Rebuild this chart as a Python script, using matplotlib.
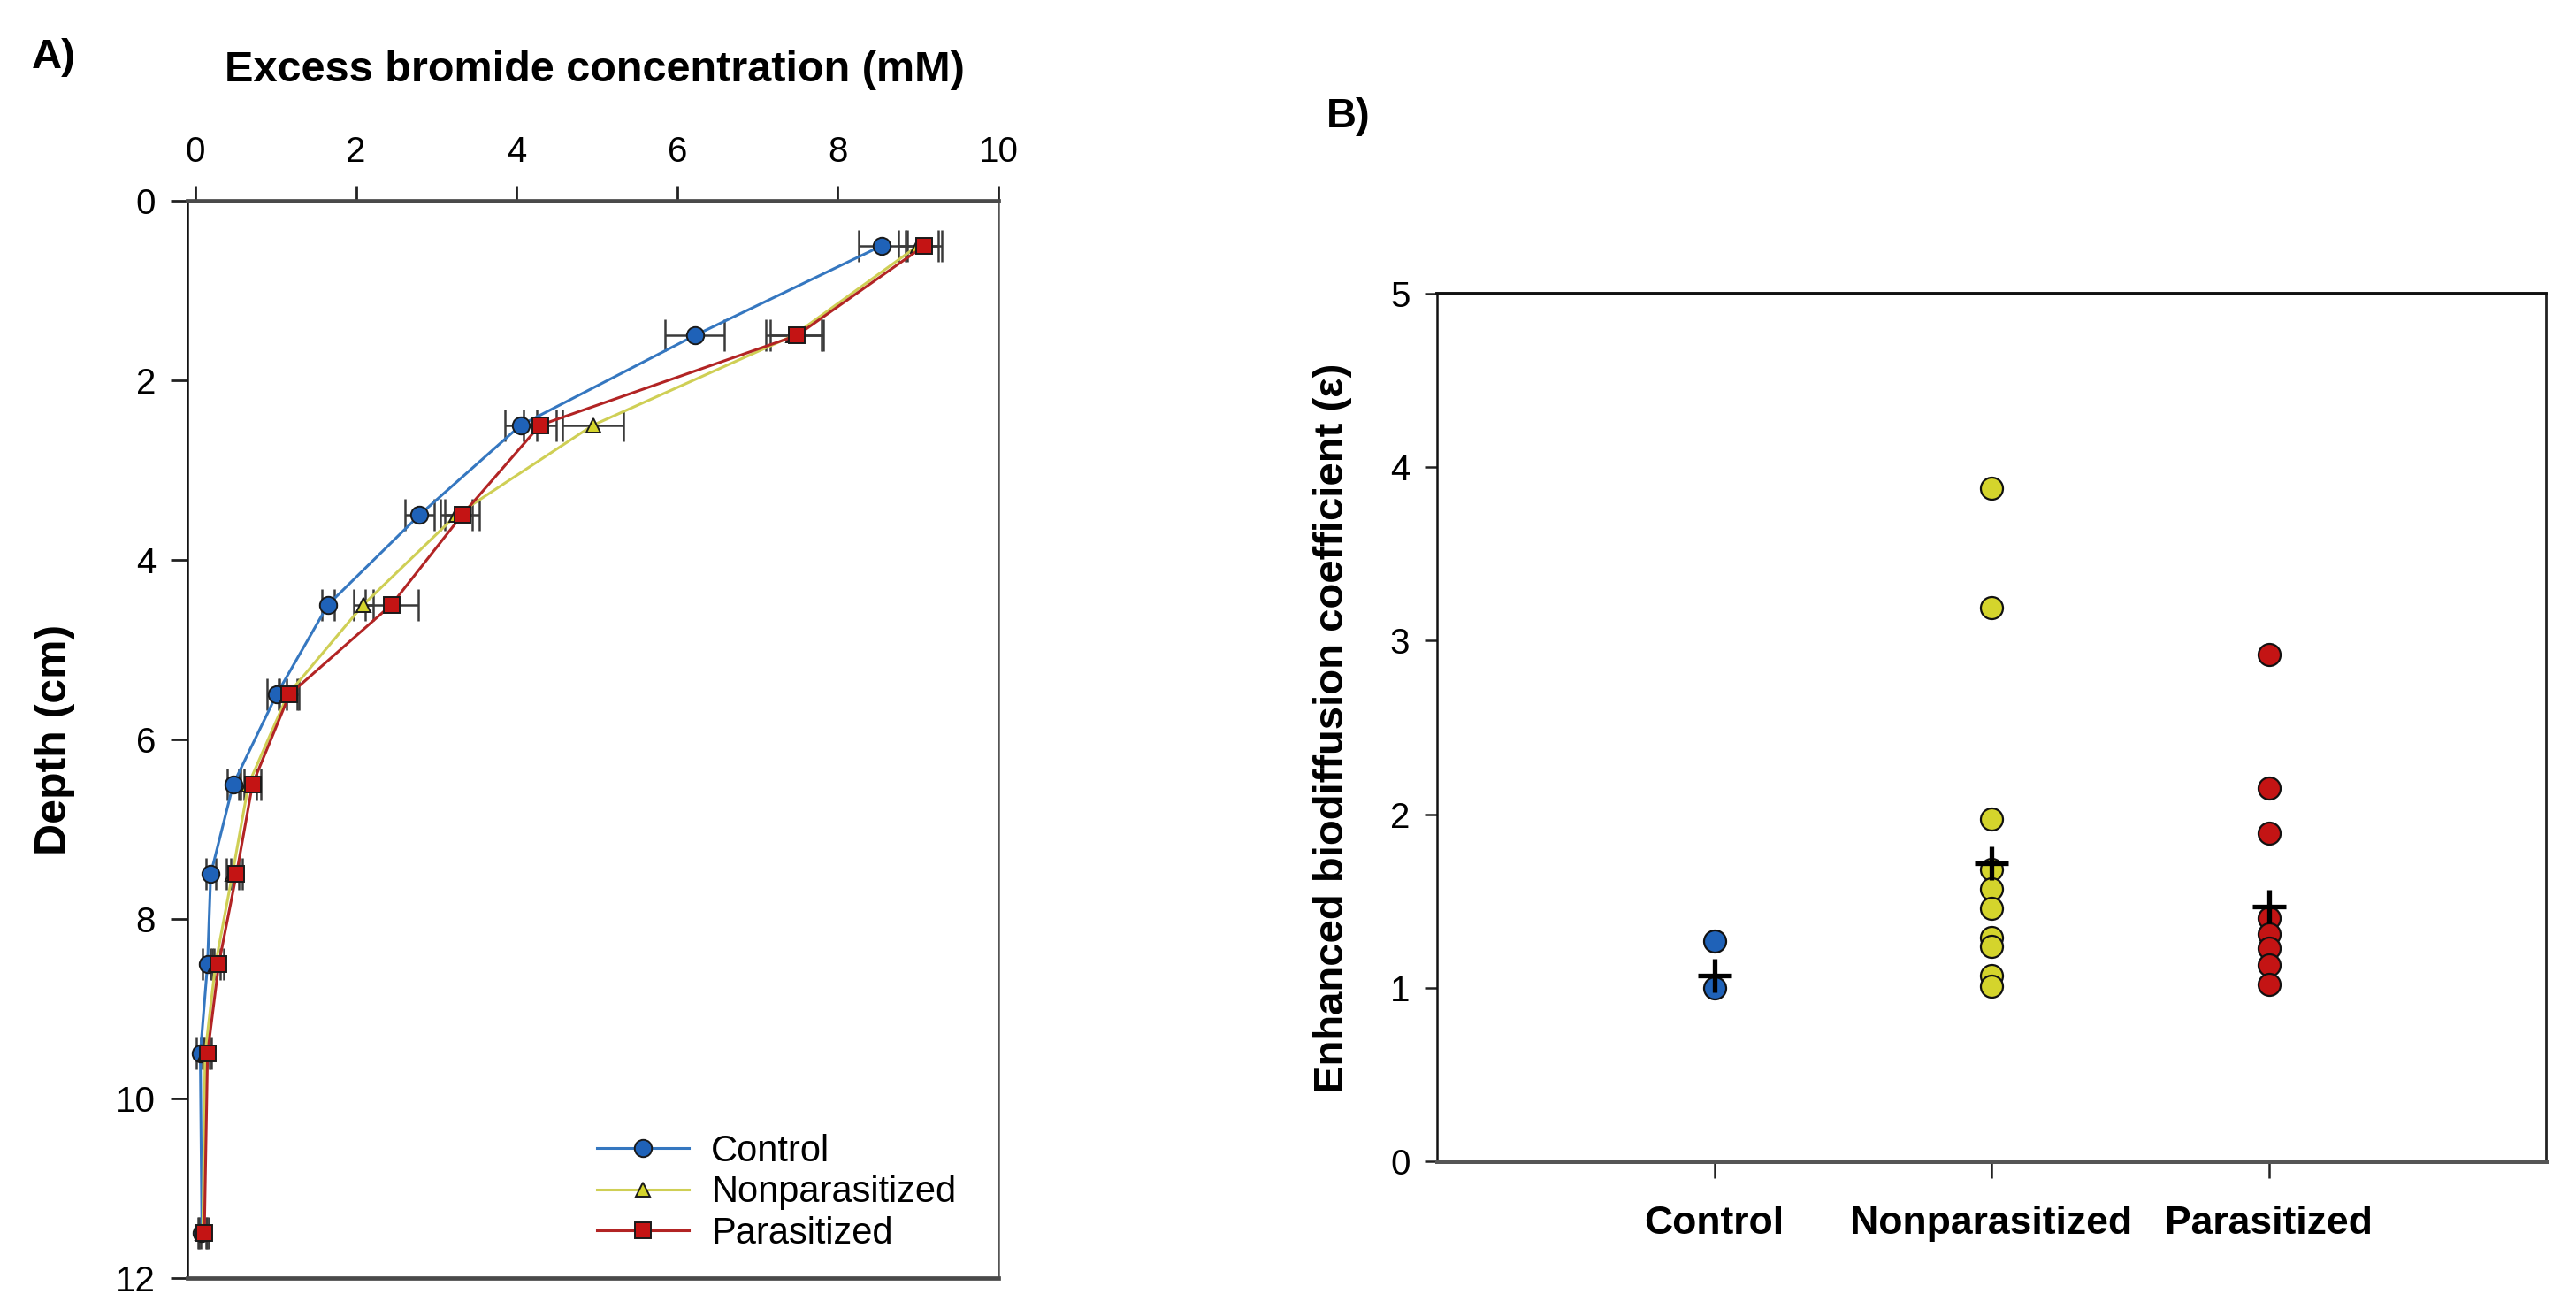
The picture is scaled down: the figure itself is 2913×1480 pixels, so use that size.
import matplotlib
matplotlib.use('Agg')
import matplotlib.pyplot as plt
import numpy as np

plt.rcParams['font.family'] = ['Liberation Sans', 'DejaVu Sans']

# ---------------- Data: panel A ----------------
depth = [0.5, 1.5, 2.5, 3.5, 4.5, 5.5, 6.5, 7.5, 8.5, 9.5, 11.5]
control_conc = [8.55, 6.22, 4.05, 2.79, 1.65, 1.01, 0.47, 0.19, 0.15, 0.06, 0.08]
control_err = [0.29, 0.37, 0.20, 0.18, 0.08, 0.12, 0.07, 0.06, 0.06, 0.05, 0.05]
nonpar_conc = [9.00, 7.45, 4.95, 3.25, 2.09, 1.15, 0.66, 0.46, 0.25, 0.12, 0.09]
nonpar_err = [0.25, 0.35, 0.38, 0.20, 0.12, 0.12, 0.10, 0.08, 0.06, 0.05, 0.05]
par_conc = [9.08, 7.49, 4.29, 3.32, 2.44, 1.17, 0.71, 0.51, 0.29, 0.15, 0.11]
par_err = [0.21, 0.33, 0.20, 0.21, 0.33, 0.12, 0.10, 0.07, 0.06, 0.05, 0.05]
series_names = ['Control', 'Nonparasitized', 'Parasitized']

# ---------------- Data: panel B ----------------
categories = ['Control', 'Nonparasitized', 'Parasitized']
control_eps = [1.27, 1.00]
nonpar_eps = [3.88, 3.19, 1.97, 1.68, 1.57, 1.46, 1.29, 1.24, 1.07, 1.01]
par_eps = [2.92, 2.15, 1.89, 1.40, 1.31, 1.23, 1.13, 1.02]
mean_eps = [1.07, 1.72, 1.47]

# ---------------- Styles ----------------
line_colors = ['#3577c0', '#cfcf55', '#b22424']
fill_colors = ['#1f62b8', '#d4d42c', '#c41414']
markers = ['o', '^', 's']
msizes = [7, 6, 6.5]

W, H = 2913, 1480
fig = plt.figure(figsize=(W / 200, H / 200), dpi=200)

# ---------------- Panel A ----------------
axA = fig.add_axes([212 / W, 1 - 1445 / H, 917 / W, 1218 / H])
concs = [control_conc, nonpar_conc, par_conc]
errs = [control_err, nonpar_err, par_err]
handles = []
for i in range(3):
    axA.errorbar(concs[i], depth, xerr=errs[i], fmt='none', ecolor='#3a3a3a',
                 elinewidth=0.9, capsize=6.5, capthick=0.9, zorder=2 + i * 0.1)
    ln, = axA.plot(concs[i], depth, color=line_colors[i], lw=1.1,
                   marker=markers[i], ms=msizes[i], mfc=fill_colors[i],
                   mec='#1a1a1a', mew=0.7, zorder=3 + i * 0.1, label=series_names[i])
    handles.append(ln)

axA.set_xlim(-0.1, 10)
axA.set_ylim(12, 0)
axA.set_xticks([0, 2, 4, 6, 8, 10])
axA.set_yticks([0, 2, 4, 6, 8, 10, 12])
axA.xaxis.tick_top()
axA.tick_params(axis='x', direction='out', length=6, width=1.0, pad=7,
                labelsize=14.5, color='#222222')
axA.tick_params(axis='y', direction='out', length=7, width=1.0, pad=6,
                labelsize=14.5, color='#222222')
axA.spines['top'].set_linewidth(1.7)
axA.spines['top'].set_color('#4a4a4a')
axA.spines['bottom'].set_linewidth(1.7)
axA.spines['bottom'].set_color('#4a4a4a')
axA.spines['left'].set_linewidth(0.9)
axA.spines['left'].set_color('#111111')
axA.spines['right'].set_linewidth(0.9)
axA.spines['right'].set_color('#555555')

axA.legend(handles=handles, loc='lower left', bbox_to_anchor=(0.505, 0.025),
           frameon=False, fontsize=15, borderpad=0, borderaxespad=0,
           handlelength=2.5, handletextpad=0.6, labelspacing=0.15)

fig.text(672 / W, 1 - 92 / H, 'Excess bromide concentration (mM)',
         ha='center', va='baseline', fontsize=17.5, fontweight='bold')
fig.text(62 / W, 1 - 836 / H, 'Depth (cm)', rotation=90, ha='center',
         va='center', fontsize=18, fontweight='bold')
fig.text(36 / W, 1 - 43 / H, 'A)', ha='left', va='top', fontsize=17,
         fontweight='bold')

# ---------------- Panel B ----------------
axB = fig.add_axes([1625 / W, 1 - 1313 / H, 1254 / W, 981 / H])
groups = [control_eps, nonpar_eps, par_eps]
xpos = np.arange(1, len(categories) + 1)
for i, vals in enumerate(groups):
    axB.plot(np.full(len(vals), xpos[i]), vals, linestyle='none', marker='o',
             ms=9, mfc=fill_colors[i], mec='#111111', mew=0.8, zorder=3)
axB.plot(xpos, mean_eps, linestyle='none', marker='+', ms=14, mew=1.9,
         color='black', zorder=4)

axB.set_xlim(0, 4)
axB.set_ylim(0, 5)
axB.set_xticks(xpos)
axB.set_xticklabels(categories, fontsize=16, fontweight='bold')
axB.set_yticks([0, 1, 2, 3, 4, 5])
axB.tick_params(axis='x', direction='out', length=7, width=0.9, pad=11,
                color='#222222')
axB.tick_params(axis='y', direction='out', length=5, width=0.9, pad=6,
                labelsize=14.5, color='#222222')
axB.spines['top'].set_linewidth(1.4)
axB.spines['top'].set_color('#111111')
axB.spines['bottom'].set_linewidth(1.8)
axB.spines['bottom'].set_color('#555555')
axB.spines['left'].set_linewidth(0.9)
axB.spines['left'].set_color('#111111')
axB.spines['right'].set_linewidth(1.0)
axB.spines['right'].set_color('#222222')

fig.text(1507 / W, 1 - 823 / H, 'Enhanced biodiffusion coefficient (\u03b5)',
         rotation=90, ha='center', va='center', fontsize=17, fontweight='bold')
fig.text(1500 / W, 1 - 110 / H, 'B)', ha='left', va='top', fontsize=17,
         fontweight='bold')

fig.savefig('out.png', dpi=200)
